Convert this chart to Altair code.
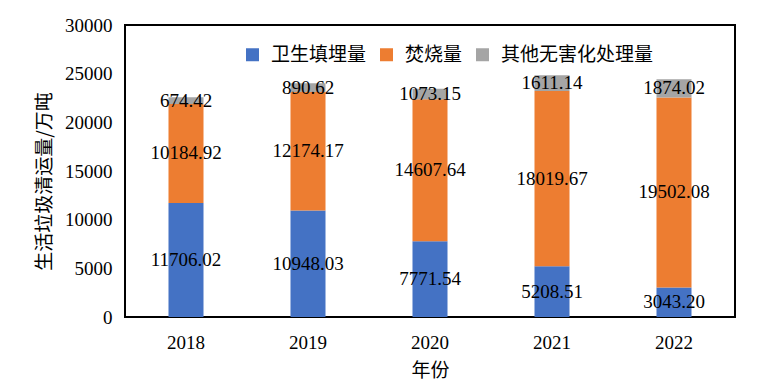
import altair as alt
import pandas as pd

years = ["2018", "2019", "2020", "2021", "2022"]
series = ["卫生填埋量", "焚烧量", "其他无害化处理量"]
landfill = [11706.02, 10948.03, 7771.54, 5208.51, 3043.20]
incineration = [10184.92, 12174.17, 14607.64, 18019.67, 19502.08]
other = [674.42, 890.62, 1073.15, 1611.14, 1874.02]
colors = ["#4472C4", "#ED7D31", "#A5A5A5"]

rows = []
for i, y in enumerate(years):
    for k, (name, vals) in enumerate(zip(series, [landfill, incineration, other])):
        rows.append({"year": y, "series": name, "value": vals[i], "order": k,
                     "label": f"{vals[i]:.2f}"})
df = pd.DataFrame(rows)

SERIF = "Liberation Serif"
CJK = "Noto Sans CJK SC"

base = alt.Chart(df).transform_stack(
    stack="value", groupby=["year"], as_=["v0", "v1"],
    sort=[alt.SortField("order", order="ascending")]
).transform_calculate(mid="(datum.v0 + datum.v1) / 2")

xenc = alt.X("year:N", sort=years,
             scale=alt.Scale(paddingInner=0.713, paddingOuter=0.3565),
             axis=alt.Axis(title="年份", labelAngle=0, ticks=False, tickSize=0, domain=False,
                           labelFont=SERIF, labelFontSize=19, labelColor="black",
                           labelPadding=16, titlePadding=9,
                           titleFont=CJK, titleFontSize=19, titleFontWeight="normal",
                           titleColor="black"))

yscale = alt.Scale(domain=[0, 30000], nice=False)
yaxis = alt.Axis(title="生活垃圾清运量/万吨", values=[0, 5000, 10000, 15000, 20000, 25000, 30000],
                 format="d", ticks=False, tickSize=0, domain=False, grid=False,
                 labelFont=SERIF, labelFontSize=19, labelColor="black",
                 labelPadding=13, titleAngle=-90, titleAlign="center",
                 titleFont=CJK, titleFontSize=19, titleFontWeight="normal", titleColor="black",
                 titleBaseline="middle", titleX=-81, titleY=156)

bars = base.mark_bar().encode(
    x=xenc,
    y=alt.Y("v0:Q", scale=yscale, axis=yaxis),
    y2="v1:Q",
    color=alt.Color("series:N", sort=series,
                    scale=alt.Scale(domain=series, range=colors),
                    legend=alt.Legend(title=None, orient="none", direction="horizontal",
                                      legendX=118, legendY=20, symbolType="square",
                                      symbolSize=169, symbolStrokeWidth=0,
                                      labelFont=CJK, labelFontSize=19, labelColor="black",
                                      labelOffset=9, columnPadding=10, padding=0)),
    order=alt.Order("order:Q"),
)

labels = base.mark_text(font=SERIF, fontSize=19, color="black", baseline="middle").encode(
    x=xenc,
    y=alt.Y("mid:Q", scale=yscale, axis=yaxis),
    text="label:N",
)

chart = alt.layer(bars, labels).properties(
    width=610, height=292,
    background="white",
    autosize=alt.AutoSizeParams(type="none"),
    padding={"left": 117, "top": 17, "right": 19, "bottom": 66},
).configure_view(stroke="black", strokeWidth=2).configure_axis(
    labelFont=SERIF, labelFontSize=19, labelColor="black",
    titleFont=CJK, titleFontSize=19, titleFontWeight="normal", titleColor="black",
)

chart.save("out.html", embed_options={"renderer": "svg", "actions": False})
